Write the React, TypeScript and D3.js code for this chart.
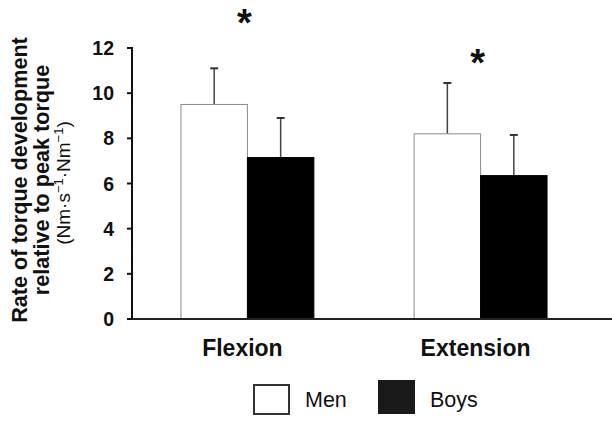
import React from 'react';
import * as d3 from 'd3';

// values
const categories = ['Flexion', 'Extension'];
const groups = ['Men', 'Boys'];
const meanMen = [9.5, 8.2];
const meanBoys = [7.15, 6.35];
const errTopMen = [11.1, 10.45];
const errTopBoys = [8.9, 8.15];
const starValues = [13.44, 11.69];
const yTicks = [0, 2, 4, 6, 8, 10, 12];

const W = 612, H = 424;
const font = '"Liberation Sans", Arial, Helvetica, sans-serif';

export default function App() {
  const y = d3.scaleLinear().domain([0, 12]).range([319, 48]);
  const x0 = d3.scaleBand().domain(categories).range([132, 596]).paddingInner(0.43).paddingOuter(0.21);
  const x1 = d3.scaleBand().domain(groups).range([0, x0.bandwidth()]);
  const fills: Record<string, string> = { Men: '#fff', Boys: '#000' };
  const strokes: Record<string, string> = { Men: '#8a8a8a', Boys: '#000' };

  const bars = categories.flatMap((c, i) => [
    { c, g: 'Men', v: meanMen[i], e: errTopMen[i] },
    { c, g: 'Boys', v: meanBoys[i], e: errTopBoys[i] },
  ]);

  const starSize = 38;

  return (
    <svg width={W} height={H} style={{ position: 'absolute', left: 0, top: 0, background: '#fff' }} fontFamily={font}>
      {/* y axis label */}
      <g transform="translate(0,180)">
        <text transform="translate(27,0) rotate(-90)" textAnchor="middle" fontSize={21.6} fontWeight="bold" fill="#111">
          Rate of torque development
        </text>
        <text transform="translate(49,0) rotate(-90)" textAnchor="middle" fontSize={21.6} fontWeight="bold" fill="#111">
          relative to peak torque
        </text>
        <text transform="translate(70,3) rotate(-90)" textAnchor="middle" fontSize={19} fill="#111">
          (Nm·s<tspan dy={-7} fontSize={13}>−1</tspan><tspan dy={7}>·Nm</tspan><tspan dy={-7} fontSize={13}>−1</tspan><tspan dy={7}>)</tspan>
        </text>
      </g>

      {/* bars */}
      {bars.map((b, i) => {
        const bx = x0(b.c)! + x1(b.g)!;
        const cx = bx + x1.bandwidth() / 2;
        return (
          <g key={i}>
            <line x1={cx} x2={cx} y1={y(b.v)} y2={y(b.e)} stroke="#444" strokeWidth={1.5} />
            <line x1={cx - 4} x2={cx + 4} y1={y(b.e)} y2={y(b.e)} stroke="#333" strokeWidth={2} />
            <rect x={bx} y={y(b.v)} width={x1.bandwidth()} height={y(0) - y(b.v)}
              fill={fills[b.g]} stroke={strokes[b.g]} strokeWidth={1} />
          </g>
        );
      })}

      {/* axes */}
      <line x1={132} x2={132} y1={47} y2={320} stroke="#111" strokeWidth={2} />
      <line x1={127} x2={W} y1={319} y2={319} stroke="#222" strokeWidth={2} />
      {yTicks.map(t => (
        <g key={t}>
          <line x1={127} x2={132} y1={y(t)} y2={y(t)} stroke="#111" strokeWidth={2} />
          <text x={114} y={y(t)} dy="0.36em" textAnchor="end" fontSize={19.5} fontWeight="bold" fill="#111">{t}</text>
        </g>
      ))}

      {/* category labels */}
      {categories.map(c => (
        <text key={c} x={x0(c)! + x0.bandwidth() / 2 - 5} y={356} textAnchor="middle" fontSize={23} fontWeight="bold" fill="#111">{c}</text>
      ))}

      {/* significance */}
      {categories.map((c, i) => (
        <text key={c} x={x0(c)! + x0.bandwidth() / 2 - 3} y={y(starValues[i]) + starSize * 0.55} textAnchor="middle" fontSize={starSize} fontWeight="bold" fill="#111">*</text>
      ))}

      {/* legend */}
      <rect x={254} y={385} width={35} height={29} fill="#fff" stroke="#333" strokeWidth={2} />
      <text x={305} y={407} fontSize={21.5} fill="#111">Men</text>
      <rect x={378} y={380} width={37} height={34} fill="#1a1a1a" />
      <text x={430} y={407} fontSize={21.5} fill="#111">Boys</text>
    </svg>
  );
}
